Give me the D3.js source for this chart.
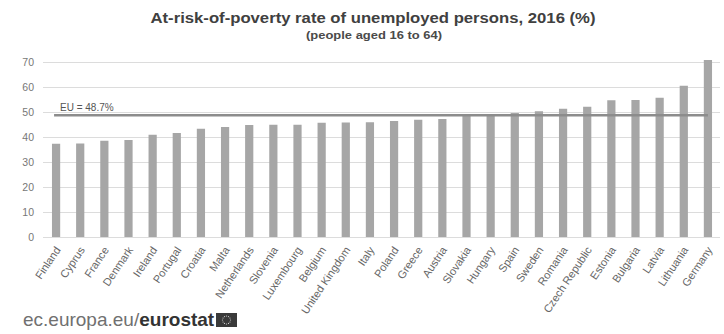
<!DOCTYPE html>
<html>
<head>
<meta charset="utf-8">
<script src="https://cdn.jsdelivr.net/npm/d3@7/dist/d3.min.js"></script>
<style>
  html, body { margin: 0; padding: 0; background: #fff; }
  svg { display: block; font-family: "Liberation Sans", Arial, sans-serif; }
</style>
</head>
<body>
<svg id="chart" width="724" height="334"></svg>
<script>
// At-risk-of-poverty rate of unemployed persons aged 16-64, 2016 (%)
const countries = ["Finland", "Cyprus", "France", "Denmark", "Ireland", "Portugal", "Croatia", "Malta",
  "Netherlands", "Slovenia", "Luxembourg", "Belgium", "United Kingdom", "Italy", "Poland", "Greece",
  "Austria", "Slovakia", "Hungary", "Spain", "Sweden", "Romania", "Czech Republic", "Estonia",
  "Bulgaria", "Latvia", "Lithuania", "Germany"];
const rates = [37.3, 37.4, 38.5, 38.8, 40.9, 41.6, 43.3, 44.0,
  44.8, 44.9, 44.9, 45.7, 45.8, 45.9, 46.4, 46.9,
  47.2, 48.4, 48.5, 49.6, 50.3, 51.3, 52.1, 54.7,
  54.8, 55.7, 60.5, 70.8];
const euAverage = 48.7;
const yTicks = [0, 10, 20, 30, 40, 50, 60, 70];

const svg = d3.select("#chart");

const x = d3.scaleBand().domain(countries).range([44, 720]).paddingInner(0.66).paddingOuter(0.33);
const y = d3.scaleLinear().domain([0, 70]).range([237, 62]);

// Title
svg.append("text")
  .attr("x", 373).attr("y", 23)
  .attr("text-anchor", "middle")
  .attr("font-size", 14.5).attr("font-weight", "bold")
  .attr("fill", "#404040")
  .attr("textLength", 445).attr("lengthAdjust", "spacingAndGlyphs")
  .text("At-risk-of-poverty rate of unemployed persons, 2016 (%)");
svg.append("text")
  .attr("x", 374).attr("y", 39)
  .attr("text-anchor", "middle")
  .attr("font-size", 11).attr("font-weight", "bold")
  .attr("fill", "#4a4a4a")
  .attr("textLength", 136).attr("lengthAdjust", "spacingAndGlyphs")
  .text("(people aged 16 to 64)");

// Horizontal gridlines
const yAxis = d3.axisLeft(y).tickValues(yTicks).tickSize(-(720 - 43)).tickPadding(9);
const gy = svg.append("g").attr("transform", "translate(43,0)").call(yAxis);
gy.select(".domain").remove();
gy.selectAll(".tick line").attr("stroke", "#dcdcdc").attr("stroke-width", 1);
gy.selectAll(".tick text")
  .attr("font-size", 10.5).attr("fill", "#777")
  .attr("font-family", "\"Liberation Sans\", Arial, sans-serif");

// Bars
svg.append("g").selectAll("rect")
  .data(countries)
  .join("rect")
  .attr("x", d => x(d))
  .attr("width", x.bandwidth())
  .attr("y", (d, i) => y(rates[i]))
  .attr("height", (d, i) => y(0) - y(rates[i]))
  .attr("fill", "#a6a6a6");

// EU average reference line
const first = countries[0], last = countries[countries.length - 1];
svg.append("line")
  .attr("x1", x(first) + x.bandwidth() / 2 - 2)
  .attr("x2", x(last) + x.bandwidth() / 2)
  .attr("y1", y(euAverage)).attr("y2", y(euAverage))
  .attr("stroke", "#8c8c8c").attr("stroke-width", 2.5);
svg.append("text")
  .attr("x", 60).attr("y", y(euAverage) - 4)
  .attr("font-size", 10).attr("fill", "#555")
  .text("EU = " + euAverage + "%");

// Rotated category labels
const xAxis = d3.axisBottom(x).tickSize(0).tickPadding(0);
const gx = svg.append("g").attr("transform", "translate(0,237)").call(xAxis);
gx.select(".domain").remove();
gx.selectAll(".tick text")
  .attr("font-size", 11).attr("fill", "#666")
  .attr("font-family", "\"Liberation Sans\", Arial, sans-serif")
  .attr("text-anchor", "end")
  .attr("dy", null).attr("y", null)
  .attr("transform", "translate(5,13) rotate(-56)");

// Source footer
const foot = svg.append("text").attr("x", 23).attr("y", 326).attr("font-size", 19);
foot.append("tspan").attr("fill", "#707070").text("ec.europa.eu/");
foot.append("tspan").attr("fill", "#333").attr("font-weight", "bold").text("eurostat");

const flag = svg.append("g").attr("transform", "translate(216,313)");
flag.append("rect").attr("width", 21).attr("height", 14).attr("fill", "#3a3a3a");
flag.selectAll("circle")
  .data(d3.range(12))
  .join("circle")
  .attr("cx", i => 10.5 + 4 * Math.cos(i * Math.PI / 6))
  .attr("cy", i => 7 + 4 * Math.sin(i * Math.PI / 6))
  .attr("r", 0.6)
  .attr("fill", "#cfcfcf");
</script>
</body>
</html>
